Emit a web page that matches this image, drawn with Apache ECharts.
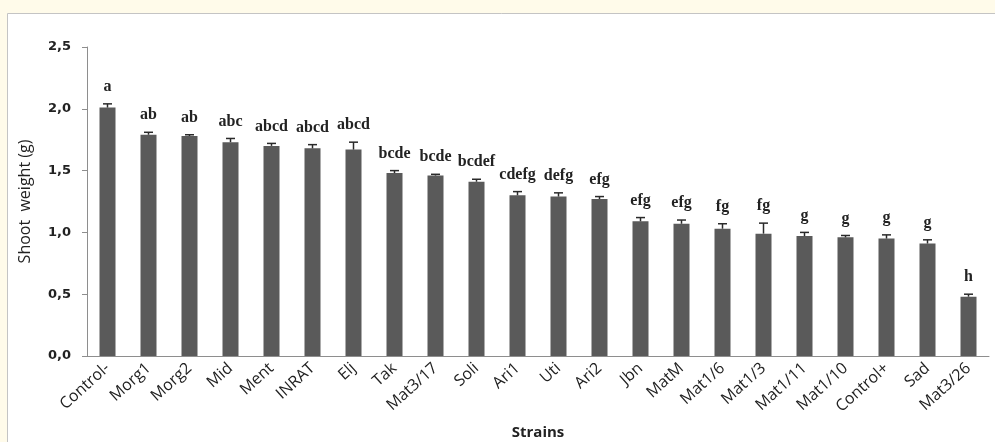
<!DOCTYPE html>
<html>
<head>
<meta charset="utf-8">
<script src="https://cdn.jsdelivr.net/npm/echarts@6/dist/echarts.min.js"></script>
<style>
  html, body { margin: 0; padding: 0; background: #fffbea; }
  #main-chart { width: 995px; height: 442px; }
</style>
</head>
<body>
<div id="main-chart"></div>
<script>
// strains (x axis)
var strains = ['Control-', 'Morg1', 'Morg2', 'Mid', 'Ment', 'INRAT', 'Elj', 'Tak', 'Mat3/17', 'Soli',
    'Ari1', 'Uti', 'Ari2', 'Jbn', 'MatM', 'Mat1/6', 'Mat1/3', 'Mat1/11', 'Mat1/10', 'Control+', 'Sad', 'Mat3/26'];
// mean shoot weight (g)
var weights = [2.01, 1.79, 1.78, 1.73, 1.70, 1.68, 1.67, 1.48, 1.46, 1.41,
    1.30, 1.29, 1.27, 1.09, 1.07, 1.03, 0.99, 0.97, 0.96, 0.95, 0.91, 0.48];
// standard error (upper bar only)
var errors = [0.03, 0.02, 0.01, 0.03, 0.02, 0.03, 0.06, 0.02, 0.01, 0.02,
    0.03, 0.03, 0.02, 0.03, 0.03, 0.04, 0.085, 0.03, 0.015, 0.03, 0.03, 0.02];
// significance letters
var letters = ['a', 'ab', 'ab', 'abc', 'abcd', 'abcd', 'abcd', 'bcde', 'bcde', 'bcdef',
    'cdefg', 'defg', 'efg', 'efg', 'efg', 'fg', 'fg', 'g', 'g', 'g', 'g', 'h'];
var yTicks = [0, 0.5, 1.0, 1.5, 2.0, 2.5];

var chartDom = document.getElementById('main-chart');
var myChart = echarts.init(chartDom);

var errData = weights.map(function (v, i) {
    return [i, v, errors[i], letters[i]];
});

var option = {
    backgroundColor: '#fffbea',
    animation: false,
    graphic: [{
        type: 'rect',
        z: -10,
        shape: { x: 7.5, y: 13.5, width: 1000, height: 440 },
        style: { fill: '#ffffff', stroke: '#c4c4c4', lineWidth: 1 }
    }],
    grid: { left: 87, right: 6, top: 47, bottom: 86, containLabel: false, outerBoundsMode: 'none' },
    xAxis: {
        type: 'category',
        data: strains,
        name: 'Strains',
        nameLocation: 'middle',
        nameGap: 69,
        nameTextStyle: { fontFamily: 'Open Sans', fontWeight: 'bold', fontSize: 15, color: '#222' },
        axisLine: { lineStyle: { color: '#8e8e8e', width: 1 } },
        axisTick: { show: false },
        axisLabel: {
            interval: 0,
            rotate: 42,
            margin: 10,
            fontFamily: 'Open Sans',
            fontSize: 16,
            color: '#222'
        }
    },
    yAxis: {
        type: 'value',
        min: 0,
        max: 2.5,
        interval: 0.5,
        name: 'Shoot  weight (g)',
        nameLocation: 'middle',
        nameGap: 54,
        nameTextStyle: { fontFamily: 'Open Sans', fontSize: 16, color: '#222' },
        axisLine: { show: true, lineStyle: { color: '#8e8e8e', width: 1 } },
        axisTick: { show: true, length: 5, lineStyle: { color: '#8e8e8e' } },
        splitLine: { show: false },
        axisLabel: {
            margin: 16,
            fontFamily: 'DejaVu Sans',
            fontWeight: 'bold',
            fontSize: 13,
            color: '#222',
            formatter: function (v) {
                var t = yTicks.indexOf(v) >= 0 ? v.toFixed(1) : String(v);
                return t.replace('.', ',');
            }
        }
    },
    series: [
        {
            type: 'bar',
            data: weights,
            barWidth: 16,
            itemStyle: { color: '#5a5a5a' }
        },
        {
            type: 'custom',
            data: errData,
            z: 5,
            renderItem: function (params, api) {
                var x = api.value(0);
                var v = api.value(1);
                var e = api.value(2);
                var base = api.coord([x, v]);
                var top = api.coord([x, v + e]);
                return {
                    type: 'group',
                    children: [
                        {
                            type: 'line',
                            shape: { x1: base[0], y1: base[1], x2: top[0], y2: top[1] },
                            style: { stroke: '#2a2a2a', lineWidth: 1.5 }
                        },
                        {
                            type: 'line',
                            shape: { x1: top[0] - 4.5, y1: top[1], x2: top[0] + 4.5, y2: top[1] },
                            style: { stroke: '#2a2a2a', lineWidth: 1.5 }
                        },
                        {
                            type: 'text',
                            x: top[0],
                            y: top[1] - 9,
                            style: {
                                text: api.value(3),
                                textAlign: 'center',
                                textVerticalAlign: 'bottom',
                                font: 'bold 16px "Liberation Serif"',
                                fill: '#222'
                            }
                        }
                    ]
                };
            }
        }
    ]
};

myChart.setOption(option);
</script>
</body>
</html>
